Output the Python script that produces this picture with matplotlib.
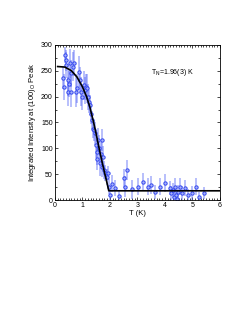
import matplotlib.pyplot as plt
import numpy as np
from matplotlib.ticker import MultipleLocator

plt.rcParams['font.family'] = ['Liberation Sans', 'DejaVu Sans']

# measured points
T = [0.30, 0.33, 0.38, 0.40, 0.42, 0.46, 0.48, 0.52, 0.55, 0.58, 0.60, 0.67, 0.69,
     0.76, 0.81, 0.87, 0.91, 0.95, 0.99, 1.05, 1.09, 1.13, 1.18, 1.21, 1.25, 1.27,
     1.31, 1.35, 1.39, 1.43, 1.47, 1.49, 1.52, 1.54, 1.58, 1.61, 1.64, 1.66, 1.70,
     1.72, 1.76, 1.79, 1.83, 1.88, 1.92, 1.95, 2.00, 2.06, 2.18, 2.34, 2.51, 2.55,
     2.63, 2.79, 3.03, 3.21, 3.39, 3.48, 3.64, 3.82, 4.00, 4.18, 4.24, 4.28, 4.33,
     4.36, 4.40, 4.45, 4.48, 4.55, 4.64, 4.73, 4.85, 4.97, 5.15, 5.25, 5.42]
intensity = [236, 219, 280, 270, 261, 209, 232, 225, 264, 209, 245, 258, 264,
             209, 216, 248, 232, 209, 200, 222, 212, 219, 216, 200, 190, 184,
             167, 155, 138, 135, 129, 106, 80, 93, 116, 100, 71, 90, 116,
             64, 84, 58, 52, 45, 52, 26, 10, 32, 23, 8, 42, 26,
             58, 21, 26, 35, 26, 29, 16, 26, 33, 23, 13, 19, 6,
             26, 10, 3, 16, 26, 13, 23, 10, 13, 26, 6, 14]
err = [22, 25, 15, 20, 25, 28, 30, 25, 28, 30, 26, 28, 25,
       30, 28, 30, 26, 28, 25, 28, 26, 25, 28, 25, 22, 20,
       20, 18, 18, 20, 22, 25, 22, 25, 24, 26, 25, 22, 22,
       20, 20, 18, 16, 15, 14, 14, 12, 16, 15, 12, 18, 20,
       20, 18, 16, 18, 16, 18, 14, 16, 18, 14, 14, 15, 12,
       16, 14, 12, 14, 16, 14, 15, 12, 14, 16, 10, 12]

# fit curve
fit_T = [0.10, 0.36, 0.60, 0.80, 1.00, 1.15, 1.27, 1.40, 1.50, 1.64, 1.75, 1.82, 1.90, 1.96, 3.00, 6.00]
fit_I = [258, 257, 250, 238, 219, 200, 180, 152, 128, 92, 66, 50, 32, 18, 18, 18]

fig = plt.figure(figsize=(2.53, 3.27), dpi=100)
ax = fig.add_axes([0.217, 0.388, 0.652, 0.475])

ax.errorbar(T, intensity, yerr=err, fmt='none', ecolor='#4a5cf5', alpha=0.5, elinewidth=1.1)
ax.plot(T, intensity, 'o', ms=2.4, mfc='#a8b2fa', mec='#3346ee', mew=0.7)
ax.plot(fit_T, fit_I, color='black', lw=1.2)

ax.text(3.5, 246, 'T$_{\\mathregular{N}}$=1.96(3) K', fontsize=5, ha='left', va='center')

ax.set_xlim(0, 6)
ax.set_ylim(0, 300)
ax.xaxis.set_major_locator(MultipleLocator(1))
ax.xaxis.set_minor_locator(MultipleLocator(0.1))
ax.yaxis.set_major_locator(MultipleLocator(50))
ax.yaxis.set_minor_locator(MultipleLocator(25))
ax.tick_params(which='both', direction='in', top=True, right=True, labelsize=5, width=0.5, pad=1.5)
ax.tick_params(which='major', length=2.5)
ax.tick_params(which='minor', length=1.5)
for s in ax.spines.values():
    s.set_linewidth(0.6)

ax.set_xlabel('T (K)', fontsize=5.5, labelpad=0.5)
ax.set_ylabel('Integrated Intensity at (100)$_{\\mathregular{O}}$ Peak', fontsize=5.5, labelpad=2)

plt.savefig('out.png', dpi=100)
